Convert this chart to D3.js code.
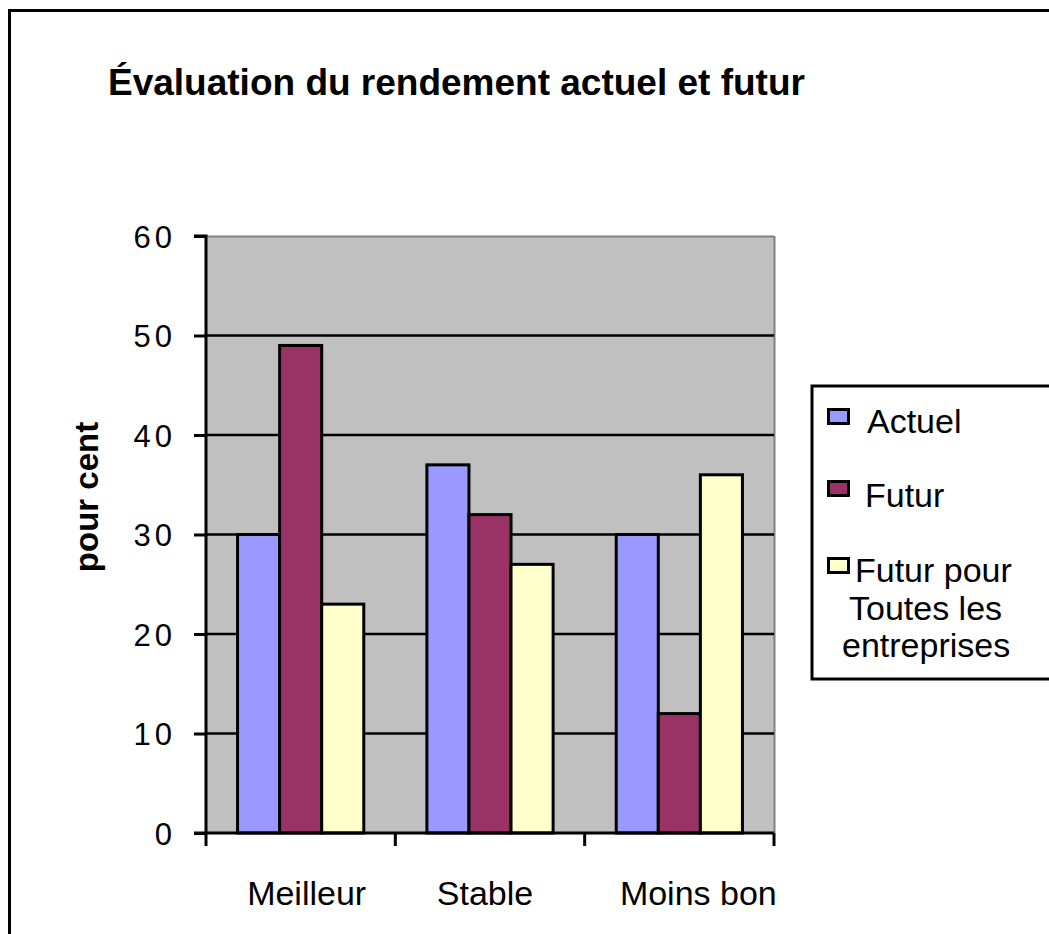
<!DOCTYPE html>
<html><head><meta charset="utf-8">
<script src="https://cdn.jsdelivr.net/npm/d3@7"></script>
<style>
html,body{margin:0;padding:0;background:#fff;}
text{font-family:"Liberation Sans",Arial,sans-serif;fill:#000;}
</style></head>
<body>
<svg id="chart" width="1049" height="934"></svg>
<script>
const categories = ["Meilleur", "Stable", "Moins bon"];
const seriesNames = ["Actuel", "Futur", "Futur pour Toutes les entreprises"];
const legendLines = [["Actuel"], ["Futur"], ["Futur pour", "Toutes les", "entreprises"]];
const actuel = [30, 37, 30];
const futur = [49, 32, 12];
const futurToutes = [23, 27, 36];
const yTicks = [0, 10, 20, 30, 40, 50, 60];
const colors = ["#9999FF", "#993366", "#FFFFCC"];
const titleText = "Évaluation du rendement actuel et futur";
const yTitle = "pour cent";

const series = [actuel, futur, futurToutes];
const svg = d3.select("#chart");

// outer frame
svg.append("rect").attr("x", 9.5).attr("y", 10.5).attr("width", 1060).attr("height", 960)
  .attr("fill", "#fff").attr("stroke", "#000").attr("stroke-width", 3);

// title
svg.append("text").attr("x", 108).attr("y", 95).style("font-size", "37px").style("font-weight", "bold")
  .text(titleText);

const L = 206, R = 774, T = 236, B = 833;
const x0 = d3.scaleBand().domain(categories).range([L, R]).padding(0);
const bw = x0.bandwidth();
const x1 = d3.scaleBand().domain(d3.range(series.length)).range([bw / 6, bw * 5 / 6]).padding(0);
const y = d3.scaleLinear().domain([0, 60]).range([B, T]);

// plot background
svg.append("rect").attr("x", L).attr("y", T).attr("width", R - L).attr("height", B - T).attr("fill", "#C0C0C0");
svg.append("line").attr("x1", L).attr("x2", R).attr("y1", T + 0.5).attr("y2", T + 0.5).attr("stroke", "#808080").attr("stroke-width", 2);
svg.append("line").attr("x1", R + 0.5).attr("x2", R + 0.5).attr("y1", T).attr("y2", B).attr("stroke", "#808080").attr("stroke-width", 2);

// gridlines
svg.append("g").selectAll("line").data(yTicks.filter(d => d > 0 && d < 60)).join("line")
  .attr("x1", L).attr("x2", R).attr("y1", d => y(d)).attr("y2", d => y(d))
  .attr("stroke", "#000").attr("stroke-width", 2.5);

// bars
const groups = svg.append("g").selectAll("g").data(categories).join("g")
  .attr("transform", c => `translate(${x0(c)},0)`);
groups.selectAll("rect").data((c, ci) => series.map((s, si) => ({si, v: s[ci]}))).join("rect")
  .attr("x", d => x1(d.si)).attr("width", x1.bandwidth())
  .attr("y", d => y(d.v)).attr("height", d => y(0) - y(d.v))
  .attr("fill", d => colors[d.si]).attr("stroke", "#000").attr("stroke-width", 3);

// y axis
const yAxis = d3.axisLeft(y).tickValues(yTicks).tickSize(12).tickPadding(18);
const gy = svg.append("g").attr("transform", `translate(${L},0)`).call(yAxis);
gy.attr("font-size", null).attr("font-family", null);
gy.select(".domain").attr("stroke", "#000").attr("stroke-width", 3).attr("d", `M-12,${T}H0V${B}`);
gy.selectAll(".tick line").attr("stroke", "#000").attr("stroke-width", 3);
gy.selectAll(".tick text").style("font-size", "31px").style("letter-spacing", "4px").attr("dy", "0.36em");

// y title
svg.append("text").attr("transform", "translate(98,497) rotate(-90)").attr("text-anchor", "middle")
  .style("font-size", "33px").style("font-weight", "bold").text(yTitle);

// x axis
const gx = svg.append("g").attr("transform", `translate(0,${B})`);
gx.append("line").attr("x1", L - 12).attr("x2", R).attr("y1", 0).attr("y2", 0).attr("stroke", "#000").attr("stroke-width", 3);
const boundaries = categories.map(c => x0(c)).concat([R]);
gx.selectAll("line.tk").data(boundaries).join("line").attr("class", "tk")
  .attr("x1", d => d).attr("x2", d => d).attr("y1", 0).attr("y2", 13)
  .attr("stroke", "#000").attr("stroke-width", 3);
const labelDx = [6, -5, 19];
gx.selectAll("text").data(categories).join("text")
  .attr("x", (c, i) => x0(c) + bw / 2 + labelDx[i])
  .attr("y", 72)
  .attr("text-anchor", "middle").style("font-size", "34px")
  .text(c => c);

// legend
const lg = svg.append("g");
lg.append("rect").attr("x", 812).attr("y", 386).attr("width", 260).attr("height", 293)
  .attr("fill", "#fff").attr("stroke", "#000").attr("stroke-width", 3);
const legendY = [409, 481, 558];
const textX = [[867], [865], [855, 849, 842]];
const textBase = [433, 507, 582];
legendLines.forEach((lines, i) => {
  lg.append("rect").attr("x", 828.5).attr("y", legendY[i] + 0.5).attr("width", 20).attr("height", 14)
    .attr("fill", colors[i]).attr("stroke", "#000").attr("stroke-width", 3);
  const t = lg.append("text").attr("y", textBase[i]).style("font-size", "34px");
  lines.forEach((ln, j) => {
    t.append("tspan").attr("x", textX[i][j]).attr("dy", j === 0 ? 0 : 37.5).text(ln);
  });
});
</script></body></html>
